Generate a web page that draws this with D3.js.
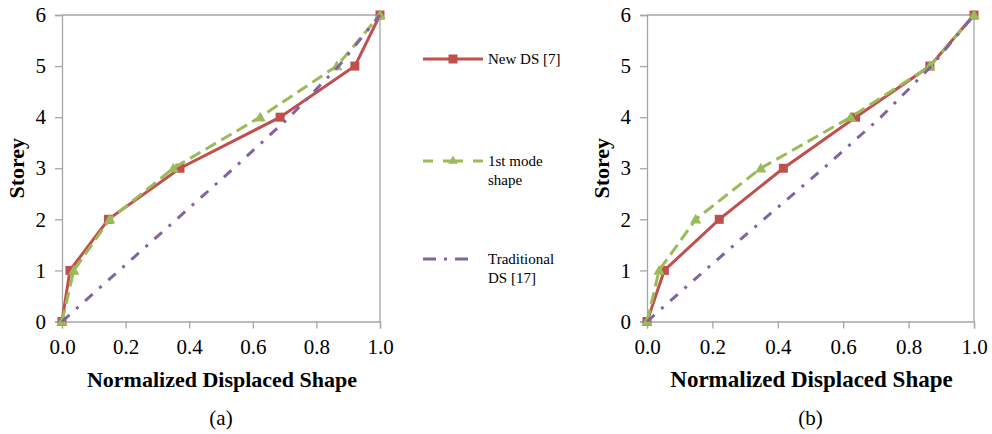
<!DOCTYPE html>
<meta charset="utf-8">
<title>Normalized displaced shape</title>
<style>
  body { margin: 0; background: #fff; }
  text { font-family: "Liberation Serif", "Times New Roman", serif; fill: #000; }
  .grid { stroke: #a6a6a6; stroke-width: 1.3px; fill: none; }
  .lbl { font-size: 21px; }
  .title { font-size: 22px; font-weight: bold; }
  .legend text { font-size: 15px; }
</style>
<body>
<script src="https://d3js.org/d3.v7.min.js"></script>
<script>

var width = 992,
    height = 434;

// storey levels and the normalized displaced shapes
var storeys = [0, 1, 2, 3, 4, 5, 6];
var xTicks = [0, 0.2, 0.4, 0.6, 0.8, 1.0];
var yTicks = [0, 1, 2, 3, 4, 5, 6];

var newDsA = [0, 0.025, 0.146, 0.371, 0.686, 0.921, 1.0];
var modeA  = [0, 0.037, 0.15, 0.35, 0.623, 0.864, 1.0];
var tradA  = [0, 0.18, 0.36, 0.54, 0.715, 0.87, 1.0];

var newDsB = [0, 0.053, 0.221, 0.417, 0.638, 0.865, 1.0];
var modeB  = [0, 0.037, 0.149, 0.348, 0.623, 0.865, 1.0];
var tradB  = [0, 0.177, 0.357, 0.54, 0.715, 0.87, 1.0];

var seriesNames = ["New DS [7]", "1st mode|shape", "Traditional|DS [17]"];
var colors = ["#c0504d", "#9bbb59", "#8064a2"];
var dashes = [null, "12,6", "10,9,3,9"];

var svg = d3.select("body").append("svg")
  .attr("width", width)
  .attr("height", height);

function drawPanel(opt) {
  var g = svg.append("g");
  var x = d3.scaleLinear().domain([0, 1]).range([opt.x0, opt.x1]);
  var y = d3.scaleLinear().domain([0, 6]).range([321.5, 15]);

  // frame: top and right border
  g.append("path").attr("class", "grid")
    .attr("d", "M" + x(0) + "," + y(6) + "H" + x(1) + "V" + y(0));

  var yAxis = g.append("g")
    .attr("transform", "translate(" + x(0) + ",0)")
    .call(d3.axisLeft(y).tickValues(yTicks).tickSize(7).tickPadding(9).tickFormat(d3.format("d")));
  var xAxis = g.append("g")
    .attr("transform", "translate(0," + y(0) + ")")
    .call(d3.axisBottom(x).tickValues(xTicks).tickSize(7).tickPadding(11).tickFormat(d3.format(".1f")));

  [xAxis, yAxis].forEach(function(a) {
    a.attr("font-family", null).attr("font-size", null);
    a.select(".domain").attr("class", "grid");
    a.selectAll(".tick line").attr("stroke", "#a6a6a6").attr("stroke-width", 1.3);
    a.selectAll(".tick text").attr("class", "lbl");
  });

  g.append("text").attr("class", "title")
    .attr("transform", "translate(" + (opt.x0 - 38) + "," + y(3) + ") rotate(-90)")
    .attr("text-anchor", "middle")
    .text("Storey");

  g.append("text").attr("class", "title")
    .attr("x", (x(0) + x(1)) / 2 + 1).attr("y", 387)
    .attr("text-anchor", "middle")
    .style("font-size", opt.titleSize + "px")
    .text("Normalized Displaced Shape");

  g.append("text").attr("class", "lbl")
    .attr("x", (x(0) + x(1)) / 2).attr("y", 425)
    .attr("text-anchor", "middle")
    .text(opt.label);

  var line = d3.line()
    .x(function(d) { return x(d[0]); })
    .y(function(d) { return y(d[1]); });

  opt.series.forEach(function(vals, i) {
    var pts = vals.map(function(v, k) { return [v, storeys[k]]; });
    g.append("path")
      .attr("d", line(pts))
      .attr("fill", "none")
      .attr("stroke", colors[i])
      .attr("stroke-width", 3)
      .attr("stroke-dasharray", dashes[i]);
    if (i == 0) {
      g.selectAll(null).data(pts).enter().append("rect")
        .attr("x", function(d) { return x(d[0]) - 4.5; })
        .attr("y", function(d) { return y(d[1]) - 4.5; })
        .attr("width", 9).attr("height", 9)
        .attr("fill", colors[i]);
    }
    if (i == 1) {
      g.selectAll(null).data(pts).enter().append("path")
        .attr("d", d3.symbol().type(d3.symbolTriangle).size(55))
        .attr("transform", function(d) { return "translate(" + x(d[0]) + "," + (y(d[1]) + 1) + ")"; })
        .attr("fill", colors[i]);
    }
  });
}

drawPanel({ x0: 62, x1: 380, label: "(a)", titleSize: 22, series: [newDsA, modeA, tradA] });
drawPanel({ x0: 647, x1: 974, label: "(b)", titleSize: 23, series: [newDsB, modeB, tradB] });

// legend
var legend = svg.append("g").attr("class", "legend");
var legendY = [59, 161, 259];
seriesNames.forEach(function(name, i) {
  var ly = legendY[i];
  legend.append("line")
    .attr("x1", 423).attr("x2", i == 2 ? 472 : 483).attr("y1", ly).attr("y2", ly)
    .attr("stroke", colors[i]).attr("stroke-width", 3)
    .attr("stroke-dasharray", i == 0 ? null : (i == 1 ? "10,10,20,10" : "13,8,3,8"));
  if (i == 0) {
    legend.append("rect").attr("x", 448.5).attr("y", ly - 4.5)
      .attr("width", 9).attr("height", 9).attr("fill", colors[i]);
  }
  if (i == 1) {
    legend.append("path")
      .attr("d", d3.symbol().type(d3.symbolTriangle).size(40))
      .attr("transform", "translate(453," + ly + ")")
      .attr("fill", colors[i]);
  }
  var t = legend.append("text").attr("x", 488).attr("y", ly + 5);
  name.split("|").forEach(function(part, k) {
    t.append("tspan").attr("x", 488).attr("dy", k == 0 ? 0 : 19).text(part);
  });
});

</script>
